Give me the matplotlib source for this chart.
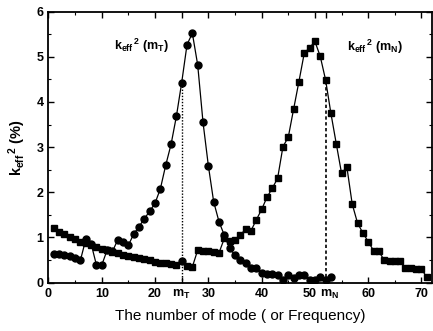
import matplotlib
matplotlib.use("Agg")
import matplotlib.pyplot as plt
import matplotlib.transforms as mtransforms
import numpy as np
from matplotlib.ticker import MultipleLocator, FixedLocator

plt.rcParams['font.family'] = ['Liberation Sans', 'DejaVu Sans']
plt.rcParams['mathtext.fontset'] = 'custom'
plt.rcParams['mathtext.rm'] = 'Liberation Sans:bold'
plt.rcParams['mathtext.it'] = 'Liberation Sans:bold'
plt.rcParams['mathtext.bf'] = 'Liberation Sans:bold'
plt.rcParams['mathtext.default'] = 'rm'

# k_eff^2(m_T) series (circles), modes 1..53
modes_T = list(range(1, 54))
keff_T = [0.64, 0.63, 0.62, 0.59, 0.55, 0.50, 0.96, 0.86, 0.39, 0.39,
          0.72, 0.69, 0.95, 0.91, 0.83, 1.08, 1.24, 1.42, 1.58, 1.76,
          2.08, 2.60, 3.06, 3.68, 4.43, 5.27, 5.52, 4.82, 3.55, 2.59,
          1.79, 1.35, 1.05, 0.76, 0.61, 0.50, 0.44, 0.33, 0.32, 0.21,
          0.20, 0.20, 0.18, 0.07, 0.17, 0.10, 0.17, 0.17, 0.07, 0.06,
          0.13, 0.06, 0.13]

# k_eff^2(m_N) series (squares), modes 1..71
modes_N = list(range(1, 72))
keff_N = [1.20, 1.13, 1.07, 1.01, 0.96, 0.91, 0.87, 0.83, 0.79, 0.75,
          0.72, 0.68, 0.65, 0.62, 0.60, 0.57, 0.55, 0.52, 0.50, 0.46,
          0.44, 0.43, 0.41, 0.40, 0.48, 0.37, 0.35, 0.72, 0.70, 0.69,
          0.67, 0.66, 0.98, 0.93, 0.94, 1.06, 1.18, 1.15, 1.39, 1.62,
          1.89, 2.09, 2.31, 3.01, 3.22, 3.84, 4.45, 5.08, 5.20, 5.34,
          5.01, 4.49, 3.75, 3.08, 2.42, 2.56, 1.74, 1.32, 1.10, 0.91,
          0.71, 0.69, 0.50, 0.49, 0.48, 0.47, 0.33, 0.32, 0.31, 0.30,
          0.12]

m_T = 25
m_N = 52
x_ticks = [0, 10, 20, m_T, 30, 40, 50, m_N, 60, 70]
x_ticklabels = ['0', '10', '20', r'm$_T$', '30', '40', '50', r'm$_N$', '60', '70']
y_ticks = [0, 1, 2, 3, 4, 5, 6]

fig = plt.figure(figsize=(4.33, 3.31), dpi=100)
ax = fig.add_axes([0.112, 0.146, 0.886, 0.819])

# squares: mark all except the m_T point, which is shown as a circle
idx_mT = modes_N.index(m_T)
mark_sq = [i for i in range(len(modes_N)) if i != idx_mT]
ax.plot(modes_N, keff_N, color='black', lw=0.9, marker='s', ms=4.3,
        markevery=mark_sq, zorder=3)
ax.plot([modes_N[idx_mT]], [keff_N[idx_mT]], 'o', color='black', ms=5, zorder=4)
ax.plot(modes_T, keff_T, color='black', lw=0.9, marker='o', ms=5, zorder=3)

# vertical reference lines
ax.plot([m_T, m_T], [0, keff_T[modes_T.index(m_T)]], color='black', lw=1.0,
        ls=(0, (1, 1.2)), zorder=2)
ax.plot([m_N, m_N], [0, keff_N[modes_N.index(m_N)]], color='black', lw=1.2,
        ls=(0, (2, 1.5)), zorder=2)

ax.text(12.2, 5.25, r'k$_{eff}$$^{\,2}$ (m$_T$)', fontsize=9, fontweight='bold',
        va='center', ha='left')
ax.text(56.0, 5.22, r'k$_{eff}$$^{\,2}$ (m$_N$)', fontsize=9, fontweight='bold',
        va='center', ha='left')

ax.set_xlim(0, 72)
ax.set_ylim(0, 6)
ax.xaxis.set_major_locator(FixedLocator(x_ticks))
ax.set_xticklabels(x_ticklabels)
ax.xaxis.set_minor_locator(MultipleLocator(5))
ax.set_yticks(y_ticks)
ax.yaxis.set_minor_locator(MultipleLocator(0.5))
ax.tick_params(which='both', direction='in', top=True, right=True)
ax.tick_params(which='major', length=4, width=1.0, labelsize=9)
ax.tick_params(which='minor', length=2, width=0.8)
for lab in ax.get_xticklabels() + ax.get_yticklabels():
    lab.set_fontweight('bold')
for sp in ax.spines.values():
    sp.set_linewidth(1.3)

# nudge the crowded "50" / "m_N" labels apart
xlabs = ax.get_xticklabels()
i50 = x_ticks.index(50)
iN = x_ticks.index(m_N)
xlabs[i50].set_transform(xlabs[i50].get_transform() +
                         mtransforms.ScaledTranslation(-4 / 72, 0, fig.dpi_scale_trans))
xlabs[iN].set_transform(xlabs[iN].get_transform() +
                        mtransforms.ScaledTranslation(3 / 72, 0, fig.dpi_scale_trans))

ax.set_xlabel('The number of mode ( or Frequency)', fontsize=11, labelpad=6)
ax.set_ylabel(r'k$_{eff}$$^{\,2}$ (%)', fontsize=10.5, fontweight='bold', labelpad=6)

fig.savefig('out.png', dpi=100)
